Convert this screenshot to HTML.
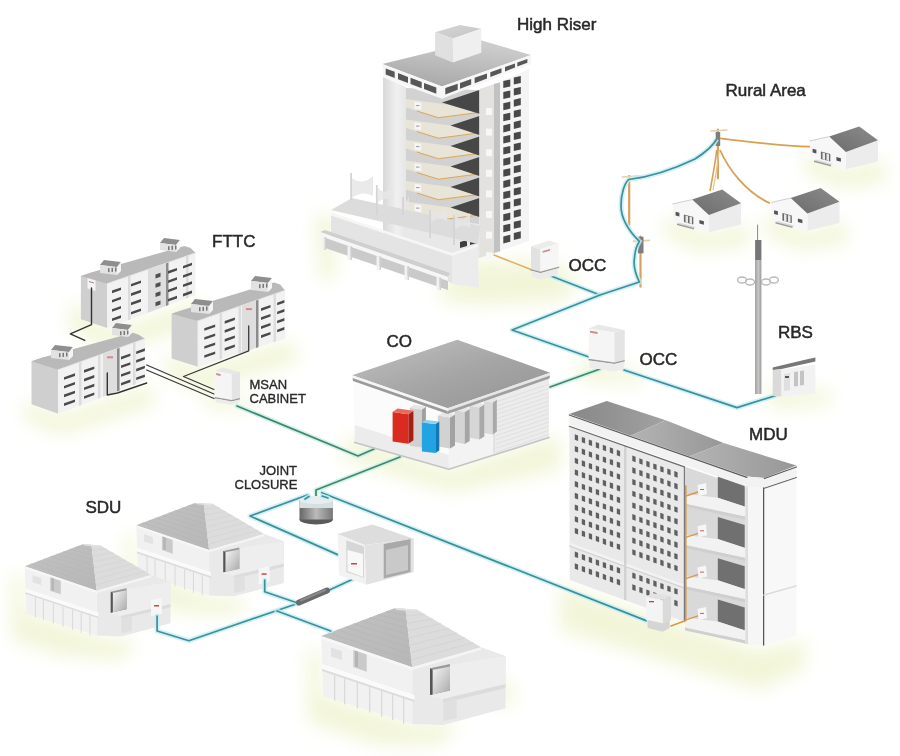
<!DOCTYPE html>
<html><head><meta charset="utf-8"><style>
html,body{margin:0;padding:0;background:#fff;}
svg{display:block;font-family:"Liberation Sans",sans-serif;}
#wrap{width:900px;height:756px;overflow:hidden;}
</style></head><body><div id="wrap">
<svg width="900" height="756" viewBox="0 0 900 756">
<rect width="900" height="756" fill="#fff"/>
<defs><filter id="blur8" x="-50%" y="-50%" width="200%" height="200%"><feGaussianBlur stdDeviation="9"/></filter><filter id="blur3"><feGaussianBlur stdDeviation="2"/></filter><linearGradient id="roofCO" x1="0" y1="0" x2="1" y2="1"><stop offset="0" stop-color="#a9a9a9"/><stop offset="1" stop-color="#8a8a8a"/></linearGradient></defs>
<g filter="url(#blur8)" opacity="0.62">
<polygon points="560,585 760,650 805,640 805,668 760,690 560,630" fill="#eaf0c0"/>
<polygon points="12,575 25,575 25,612 110,640 140,640 120,660 60,655 12,640" fill="#eaf0c0"/>
<polygon points="125,535 136,535 136,570 215,598 250,598 235,615 180,612 125,592" fill="#eaf0c0"/>
<polygon points="308,650 322,650 322,695 415,724 460,722 440,745 380,745 308,722" fill="#eaf0c0"/>
<polygon points="495,680 510,680 515,700 500,712" fill="#eaf0c0"/>
<polygon points="345,435 450,470 560,435 560,470 450,492 345,460" fill="#eaf0c0"/>
<polygon points="70,300 110,330 200,300 205,325 110,350 70,330" fill="#eaf0c0"/>
<polygon points="25,400 60,415 150,385 155,405 60,435 25,420" fill="#eaf0c0"/>
<polygon points="165,355 200,368 290,340 300,360 200,390 165,375" fill="#eaf0c0"/>
<polygon points="315,215 335,215 335,280 320,280" fill="#eaf0c0"/>
<polygon points="440,285 480,260 560,262 570,300 480,305 440,300" fill="#eaf0c0"/>
<polygon points="665,215 710,235 745,222 750,245 700,252 665,235" fill="#eaf0c0"/>
<polygon points="765,213 808,233 843,220 848,243 800,250 765,233" fill="#eaf0c0"/>
<polygon points="805,150 846,170 882,158 886,182 840,188 805,172" fill="#eaf0c0"/>
<polygon points="765,385 815,393 830,385 830,405 770,408" fill="#eaf0c0"/>
<polygon points="520,265 560,278 575,270 575,290 520,290" fill="#eaf0c0"/>
<polygon points="580,355 625,372 640,365 640,385 580,380" fill="#eaf0c0"/>
<polygon points="205,390 240,400 250,395 250,410 205,408" fill="#eaf0c0"/>
</g>
<polyline points="551.0,276.0 600.0,295.0" fill="none" stroke="#c4eef2" stroke-width="5" stroke-linejoin="round" stroke-linecap="round" opacity="0.8"/>
<polyline points="551.0,276.0 600.0,295.0" fill="none" stroke="#3d8f9a" stroke-width="1.7" stroke-linejoin="round" stroke-linecap="round" />
<polyline points="600.0,295.0 512.0,330.0 589.0,357.0" fill="none" stroke="#c4eef2" stroke-width="5" stroke-linejoin="round" stroke-linecap="round" opacity="0.8"/>
<polyline points="600.0,295.0 512.0,330.0 589.0,357.0" fill="none" stroke="#3d8f9a" stroke-width="1.7" stroke-linejoin="round" stroke-linecap="round" />
<polyline points="624.0,370.0 737.0,407.6 775.2,395.7" fill="none" stroke="#c4eef2" stroke-width="5" stroke-linejoin="round" stroke-linecap="round" opacity="0.8"/>
<polyline points="624.0,370.0 737.0,407.6 775.2,395.7" fill="none" stroke="#3d8f9a" stroke-width="1.7" stroke-linejoin="round" stroke-linecap="round" />
<polyline points="550.0,387.0 600.0,369.0" fill="none" stroke="#c8f0e0" stroke-width="5" stroke-linejoin="round" stroke-linecap="round" opacity="0.8"/>
<polyline points="550.0,387.0 600.0,369.0" fill="none" stroke="#408572" stroke-width="1.7" stroke-linejoin="round" stroke-linecap="round" />
<polyline points="237.0,406.0 358.0,456.0 374.0,449.0" fill="none" stroke="#c8f0e0" stroke-width="5" stroke-linejoin="round" stroke-linecap="round" opacity="0.8"/>
<polyline points="237.0,406.0 358.0,456.0 374.0,449.0" fill="none" stroke="#408572" stroke-width="1.7" stroke-linejoin="round" stroke-linecap="round" />
<polyline points="400.0,457.0 316.0,490.0 316.0,498.0" fill="none" stroke="#c8f0e0" stroke-width="5" stroke-linejoin="round" stroke-linecap="round" opacity="0.8"/>
<polyline points="400.0,457.0 316.0,490.0 316.0,498.0" fill="none" stroke="#408572" stroke-width="1.7" stroke-linejoin="round" stroke-linecap="round" />
<polyline points="307.5,495.0 250.0,516.0 337.6,554.6" fill="none" stroke="#c4eef2" stroke-width="5" stroke-linejoin="round" stroke-linecap="round" opacity="0.8"/>
<polyline points="307.5,495.0 250.0,516.0 337.6,554.6" fill="none" stroke="#3d8f9a" stroke-width="1.7" stroke-linejoin="round" stroke-linecap="round" />
<polyline points="321.7,492.7 646.0,620.6" fill="none" stroke="#c4eef2" stroke-width="5" stroke-linejoin="round" stroke-linecap="round" opacity="0.8"/>
<polyline points="321.7,492.7 646.0,620.6" fill="none" stroke="#3d8f9a" stroke-width="1.7" stroke-linejoin="round" stroke-linecap="round" />
<linearGradient id="gTW" x1="0" y1="0" x2="1" y2="0"><stop offset="0" stop-color="#d8d8d8"/><stop offset="0.6" stop-color="#f0f0f0"/><stop offset="1" stop-color="#e6e6e6"/></linearGradient>
<polygon points="383.0,77.0 406.0,87.0 406.0,255.0 383.0,248.0" fill="url(#gTW)" />
<polygon points="406.0,88.0 479.4,90.0 479.4,258.0 406.0,252.0" fill="#d2d2d2" />
<polygon points="406.0,215.0 479.4,224.0 479.4,258.0 406.0,252.0" fill="#e8e8e8" />
<polygon points="460.0,232.0 467.0,230.0 467.0,236.0 460.0,238.0" fill="#3e3e3e" />
<polygon points="470.0,229.0 477.0,227.0 477.0,233.0 470.0,235.0" fill="#3e3e3e" />
<polygon points="460.0,242.0 467.0,240.0 467.0,246.0 460.0,248.0" fill="#3e3e3e" />
<polygon points="470.0,239.0 477.0,237.0 477.0,243.0 470.0,245.0" fill="#3e3e3e" />
<polygon points="406.0,99.1 450.5,105.1 479.4,113.6 438.4,117.7 417.2,111.1 406.0,107.6" fill="#e9e4d8" />
<polygon points="417.2,111.1 438.4,117.7 479.4,112.4 479.4,114.3 438.4,119.3 417.2,112.7" fill="#d9d0c0" />
<polyline points="417.2,111.1 438.4,117.7 479.4,112.4" fill="none" stroke="#d8a865" stroke-width="1.0" stroke-linejoin="round" stroke-linecap="round" />
<polygon points="442.0,102.5 479.4,90.1 479.4,113.7" fill="#474747" />
<polygon points="414.5,101.8 421.2,102.8 421.2,109.8 414.5,108.8" fill="#f6f6f6" />
<rect x="416.0" y="105.1" width="3.5" height="1.0" fill="#999" />
<polygon points="406.0,119.6 450.5,125.6 479.4,134.1 438.4,138.2 417.2,131.6 406.0,128.1" fill="#e9e4d8" />
<polygon points="417.2,131.6 438.4,138.2 479.4,132.9 479.4,134.8 438.4,139.8 417.2,133.2" fill="#d9d0c0" />
<polyline points="417.2,131.6 438.4,138.2 479.4,132.9" fill="none" stroke="#d8a865" stroke-width="1.0" stroke-linejoin="round" stroke-linecap="round" />
<polygon points="450.5,125.6 479.4,116.1 479.4,135.1" fill="#474747" />
<polygon points="414.5,122.3 421.2,123.3 421.2,130.3 414.5,129.3" fill="#f6f6f6" />
<rect x="416.0" y="125.6" width="3.5" height="1.0" fill="#999" />
<polygon points="406.0,140.1 450.5,146.1 479.4,154.6 438.4,158.7 417.2,152.1 406.0,148.6" fill="#e9e4d8" />
<polygon points="417.2,152.1 438.4,158.7 479.4,153.4 479.4,155.3 438.4,160.3 417.2,153.7" fill="#d9d0c0" />
<polyline points="417.2,152.1 438.4,158.7 479.4,153.4" fill="none" stroke="#d8a865" stroke-width="1.0" stroke-linejoin="round" stroke-linecap="round" />
<polygon points="450.5,146.1 479.4,136.6 479.4,155.6" fill="#474747" />
<polygon points="414.5,142.8 421.2,143.8 421.2,150.8 414.5,149.8" fill="#f6f6f6" />
<rect x="416.0" y="146.1" width="3.5" height="1.0" fill="#999" />
<polygon points="406.0,160.6 450.5,166.6 479.4,175.1 438.4,179.2 417.2,172.6 406.0,169.1" fill="#e9e4d8" />
<polygon points="417.2,172.6 438.4,179.2 479.4,173.9 479.4,175.8 438.4,180.8 417.2,174.2" fill="#d9d0c0" />
<polyline points="417.2,172.6 438.4,179.2 479.4,173.9" fill="none" stroke="#d8a865" stroke-width="1.0" stroke-linejoin="round" stroke-linecap="round" />
<polygon points="450.5,166.6 479.4,157.1 479.4,176.1" fill="#474747" />
<polygon points="414.5,163.3 421.2,164.3 421.2,171.3 414.5,170.3" fill="#f6f6f6" />
<rect x="416.0" y="166.6" width="3.5" height="1.0" fill="#999" />
<polygon points="406.0,181.1 450.5,187.1 479.4,195.6 438.4,199.7 417.2,193.1 406.0,189.6" fill="#e9e4d8" />
<polygon points="417.2,193.1 438.4,199.7 479.4,194.4 479.4,196.3 438.4,201.3 417.2,194.7" fill="#d9d0c0" />
<polyline points="417.2,193.1 438.4,199.7 479.4,194.4" fill="none" stroke="#d8a865" stroke-width="1.0" stroke-linejoin="round" stroke-linecap="round" />
<polygon points="450.5,187.1 479.4,177.6 479.4,196.6" fill="#474747" />
<polygon points="414.5,183.8 421.2,184.8 421.2,191.8 414.5,190.8" fill="#f6f6f6" />
<rect x="416.0" y="187.1" width="3.5" height="1.0" fill="#999" />
<polygon points="406.0,201.6 450.5,207.6 479.4,216.1 438.4,220.2 417.2,213.6 406.0,210.1" fill="#e9e4d8" />
<polygon points="417.2,213.6 438.4,220.2 479.4,214.9 479.4,216.8 438.4,221.8 417.2,215.2" fill="#d9d0c0" />
<polyline points="417.2,213.6 438.4,220.2 479.4,214.9" fill="none" stroke="#d8a865" stroke-width="1.0" stroke-linejoin="round" stroke-linecap="round" />
<polygon points="450.5,207.6 479.4,198.1 479.4,217.1" fill="#474747" />
<polygon points="414.5,204.3 421.2,205.3 421.2,212.3 414.5,211.3" fill="#f6f6f6" />
<rect x="416.0" y="207.6" width="3.5" height="1.0" fill="#999" />
<polygon points="479.4,89.0 495.0,84.0 495.0,253.0 479.4,258.0" fill="#e4e2de" />
<polygon points="494.0,84.0 501.0,82.0 501.0,251.0 494.0,253.0" fill="#c2c2c2" />
<rect x="486.0" y="108.0" width="6.0" height="7.0" fill="#f7f7f7" />
<rect x="486.0" y="128.6" width="6.0" height="7.0" fill="#f7f7f7" />
<rect x="486.0" y="149.2" width="6.0" height="7.0" fill="#f7f7f7" />
<rect x="486.0" y="169.8" width="6.0" height="7.0" fill="#f7f7f7" />
<rect x="486.0" y="190.4" width="6.0" height="7.0" fill="#f7f7f7" />
<rect x="486.0" y="211.0" width="6.0" height="7.0" fill="#f7f7f7" />
<rect x="486.0" y="231.6" width="6.0" height="7.0" fill="#f7f7f7" />
<rect x="486.0" y="252.2" width="6.0" height="7.0" fill="#f7f7f7" />
<polygon points="500.0,82.0 529.0,69.0 529.0,241.0 500.0,251.0" fill="#f4f4f4" />
<polygon points="503.3,81.0 510.3,79.4 510.3,86.4 503.3,88.0" fill="#484848" />
<polygon points="513.8,77.5 520.8,75.9 520.8,82.9 513.8,84.5" fill="#484848" />
<polygon points="503.3,92.1 510.3,90.5 510.3,97.5 503.3,99.1" fill="#484848" />
<polygon points="513.8,88.6 520.8,87.0 520.8,94.0 513.8,95.6" fill="#484848" />
<polygon points="503.3,103.2 510.3,101.6 510.3,108.6 503.3,110.2" fill="#484848" />
<polygon points="513.8,99.7 520.8,98.1 520.8,105.1 513.8,106.7" fill="#484848" />
<polygon points="503.3,114.3 510.3,112.7 510.3,119.7 503.3,121.3" fill="#484848" />
<polygon points="513.8,110.8 520.8,109.2 520.8,116.2 513.8,117.8" fill="#484848" />
<polygon points="503.3,125.4 510.3,123.8 510.3,130.8 503.3,132.4" fill="#484848" />
<polygon points="513.8,121.9 520.8,120.3 520.8,127.3 513.8,128.9" fill="#484848" />
<polygon points="503.3,136.5 510.3,134.9 510.3,141.9 503.3,143.5" fill="#484848" />
<polygon points="513.8,133.0 520.8,131.4 520.8,138.4 513.8,140.0" fill="#484848" />
<polygon points="503.3,147.6 510.3,146.0 510.3,153.0 503.3,154.6" fill="#484848" />
<polygon points="513.8,144.1 520.8,142.5 520.8,149.5 513.8,151.1" fill="#484848" />
<polygon points="503.3,158.7 510.3,157.1 510.3,164.1 503.3,165.7" fill="#484848" />
<polygon points="513.8,155.2 520.8,153.6 520.8,160.6 513.8,162.2" fill="#484848" />
<polygon points="503.3,169.8 510.3,168.2 510.3,175.2 503.3,176.8" fill="#484848" />
<polygon points="513.8,166.3 520.8,164.7 520.8,171.7 513.8,173.3" fill="#484848" />
<polygon points="503.3,180.9 510.3,179.3 510.3,186.3 503.3,187.9" fill="#484848" />
<polygon points="513.8,177.4 520.8,175.8 520.8,182.8 513.8,184.4" fill="#484848" />
<polygon points="503.3,192.0 510.3,190.4 510.3,197.4 503.3,199.0" fill="#484848" />
<polygon points="513.8,188.5 520.8,186.9 520.8,193.9 513.8,195.5" fill="#484848" />
<polygon points="503.3,203.1 510.3,201.5 510.3,208.5 503.3,210.1" fill="#484848" />
<polygon points="513.8,199.6 520.8,198.0 520.8,205.0 513.8,206.6" fill="#484848" />
<polygon points="503.3,214.2 510.3,212.6 510.3,219.6 503.3,221.2" fill="#484848" />
<polygon points="513.8,210.7 520.8,209.1 520.8,216.1 513.8,217.7" fill="#484848" />
<polygon points="503.3,225.3 510.3,223.7 510.3,230.7 503.3,232.3" fill="#484848" />
<polygon points="513.8,221.8 520.8,220.2 520.8,227.2 513.8,228.8" fill="#484848" />
<polygon points="503.3,236.4 510.3,234.8 510.3,241.8 503.3,243.4" fill="#484848" />
<polygon points="513.8,232.9 520.8,231.3 520.8,238.3 513.8,239.9" fill="#484848" />
<linearGradient id="gHRR" x1="0.3" y1="1" x2="0.7" y2="0"><stop offset="0" stop-color="#a8a8a8"/><stop offset="1" stop-color="#d0d0d0"/></linearGradient>
<polygon points="382.4,64.0 480.0,40.0 531.0,55.0 442.0,86.5" fill="url(#gHRR)" />
<polygon points="382.4,64.0 442.0,86.5 442.0,98.8 383.5,77.5" fill="#f6f6f6" />
<polygon points="442.0,86.5 531.0,55.0 531.0,64.0 442.0,98.8" fill="#f6f6f6" />
<polygon points="385.7,68.4 394.7,71.8 394.7,78.0 385.7,74.6" fill="#575757" />
<polygon points="398.0,73.1 408.0,76.9 408.0,83.1 398.0,79.3" fill="#575757" />
<polygon points="410.5,77.8 421.7,82.0 421.7,88.2 410.5,84.0" fill="#575757" />
<polygon points="424.0,82.9 436.3,87.5 436.3,93.7 424.0,89.1" fill="#575757" />
<polygon points="445.3,88.1 457.7,83.7 457.7,89.7 445.3,94.5" fill="#575757" />
<polygon points="460.0,82.9 471.2,79.0 471.2,84.5 460.0,88.8" fill="#575757" />
<polygon points="474.6,77.8 487.0,73.4 487.0,78.4 474.6,83.2" fill="#575757" />
<polygon points="490.3,72.2 501.5,68.2 501.5,72.7 490.3,77.1" fill="#575757" />
<polygon points="505.0,67.0 515.0,63.5 515.0,67.5 505.0,71.4" fill="#575757" />
<polygon points="517.3,62.6 527.4,59.1 527.4,62.7 517.3,66.6" fill="#575757" />
<linearGradient id="gBX" x1="0" y1="0" x2="1" y2="1"><stop offset="0" stop-color="#d6d6d6"/><stop offset="1" stop-color="#c4c4c4"/></linearGradient>
<polygon points="435.1,32.2 460.0,25.1 481.3,28.7 452.9,38.4" fill="url(#gBX)" />
<polygon points="435.1,32.2 452.9,38.4 452.9,62.4 435.1,55.3" fill="#e0e0e0" />
<polygon points="452.9,38.4 481.3,28.7 481.3,52.7 452.9,62.4" fill="#efefef" />
<polygon points="331.0,210.0 352.0,198.0 480.0,226.0 478.0,244.0" fill="#dcdcdc" />
<polygon points="331.0,212.5 452.0,253.0 478.0,244.0 478.0,247.0 452.0,256.0 331.0,215.5" fill="#f6f6f6" />
<polygon points="331.0,215.5 452.0,256.0 452.0,283.0 331.0,244.0" fill="#e4e4e4" />
<polygon points="452.0,256.0 478.0,247.0 479.0,288.0 452.0,284.0" fill="#ececec" />
<polygon points="325.0,236.0 448.0,279.0 448.0,290.0 325.0,248.0" fill="#cacaca" />
<polygon points="320.0,232.0 325.0,230.0 450.0,273.0 448.0,277.0" fill="#cfcfcf" />
<polygon points="320.0,232.0 448.0,277.0 448.0,281.0 320.0,236.0" fill="#f6f6f6" />
<polygon points="321.5,237.1 324.5,237.1 324.5,250.0 321.5,250.0" fill="#f2f2f2" />
<polygon points="324.5,237.1 326.0,237.1 326.0,250.0 324.5,250.0" fill="#d0d0d0" />
<polygon points="347.5,246.2 350.5,246.2 350.5,260.0 347.5,260.0" fill="#f2f2f2" />
<polygon points="350.5,246.2 352.0,246.2 352.0,260.0 350.5,260.0" fill="#d0d0d0" />
<polygon points="376.5,256.3 379.5,256.3 379.5,270.0 376.5,270.0" fill="#f2f2f2" />
<polygon points="379.5,256.3 381.0,256.3 381.0,270.0 379.5,270.0" fill="#d0d0d0" />
<polygon points="404.5,266.1 407.5,266.1 407.5,280.0 404.5,280.0" fill="#f2f2f2" />
<polygon points="407.5,266.1 409.0,266.1 409.0,280.0 407.5,280.0" fill="#d0d0d0" />
<polygon points="436.5,277.3 439.5,277.3 439.5,290.0 436.5,290.0" fill="#f2f2f2" />
<polygon points="439.5,277.3 441.0,277.3 441.0,290.0 439.5,290.0" fill="#d0d0d0" />
<polyline points="494.0,255.0 531.0,269.5" fill="none" stroke="#e0b060" stroke-width="1.6" stroke-linejoin="round" stroke-linecap="round" />
<path d="M352,178 Q362.0,186 373,176 L373,196 Q362.0,190 352,198 Z" fill="#e6e6e6" opacity="0.85"/>
<rect x="350.2" y="173.0" width="1.8" height="27.0" fill="#d4d4d4" />
<path d="M377.7,188 Q384.85,196 393,186 L393,201 Q384.85,195 377.7,203 Z" fill="#e6e6e6" opacity="0.85"/>
<rect x="375.9" y="185.0" width="1.8" height="30.0" fill="#d4d4d4" />
<path d="M404,198 Q406.0,206 409,196 L409,211 Q406.0,205 404,213 Z" fill="#e6e6e6" opacity="0.85"/>
<rect x="402.2" y="197.0" width="1.8" height="18.0" fill="#d4d4d4" />
<path d="M431,210 Q438.5,218 447,208 L447,221 Q438.5,215 431,223 Z" fill="#e6e6e6" opacity="0.85"/>
<rect x="429.2" y="210.0" width="1.8" height="28.0" fill="#d4d4d4" />
<path d="M455,215 Q462.0,223 470,213 L470,228 Q462.0,222 455,230 Z" fill="#e6e6e6" opacity="0.85"/>
<rect x="453.2" y="215.0" width="1.8" height="30.0" fill="#d4d4d4" />
<polygon points="531.0,246.4 549.0,240.5 558.6,243.8 540.4,249.3" fill="#ececec" />
<polygon points="531.0,246.4 540.4,249.3 540.4,272.2 531.0,269.7" fill="#e2e2e2" />
<polygon points="540.4,249.3 558.6,243.8 558.6,267.1 540.4,272.2" fill="#f6f6f6" />
<polyline points="531.0,269.9 540.4,272.4 558.6,267.3" fill="none" stroke="#9a9a9a" stroke-width="1.4" stroke-linejoin="round" stroke-linecap="round" />
<polygon points="532.0,271.0 540.4,273.5 557.6,268.5 557.6,275.0 540.4,279.5 532.0,277.0" fill="#ebebeb" />
<polygon points="542.6,251.0 550.0,249.0 550.0,250.8 542.6,252.8" fill="#c89090" />
<polygon points="588.6,328.8 597.9,324.5 624.7,329.9 614.4,332.4" fill="#e8e8e8" />
<polygon points="588.6,328.8 614.4,332.4 614.4,362.4 588.6,358.8" fill="#f5f5f5" />
<polygon points="614.4,332.4 624.7,329.9 624.7,359.9 614.4,362.4" fill="#e4e4e4" />
<polygon points="588.6,358.8 614.4,362.4 624.7,359.9 624.7,361.5 614.4,364.0 588.6,360.4" fill="#9a9a9a" />
<polygon points="589.6,360.4 614.4,364.0 624.7,361.5 623.7,368.9 614.4,371.4 589.6,367.8" fill="#ececec" />
<polygon points="590.1,330.8 597.6,332.1 597.6,334.1 590.1,332.8" fill="#c89090" />
<polygon points="353.4,381.3 447.6,412.0 448.8,469.3 354.7,442.4" fill="#fbfbfb" />
<polygon points="354.7,425.0 448.8,455.0 494.0,440.0 494.0,452.0 448.8,469.3 354.7,442.4" fill="#ececec" />
<polygon points="447.6,412.0 549.0,377.7 549.0,437.6 448.8,469.3" fill="#f3f3f3" />
<polygon points="494.0,396.0 549.0,377.7 549.0,437.6 494.0,453.0" fill="#ececec" />
<polyline points="496.0,402.0 548.0,384.5" fill="none" stroke="#dadada" stroke-width="0.7" stroke-linejoin="round" stroke-linecap="round" />
<polyline points="496.0,406.2 548.0,388.7" fill="none" stroke="#dadada" stroke-width="0.7" stroke-linejoin="round" stroke-linecap="round" />
<polyline points="496.0,410.4 548.0,392.9" fill="none" stroke="#dadada" stroke-width="0.7" stroke-linejoin="round" stroke-linecap="round" />
<polyline points="496.0,414.6 548.0,397.1" fill="none" stroke="#dadada" stroke-width="0.7" stroke-linejoin="round" stroke-linecap="round" />
<polyline points="496.0,418.8 548.0,401.3" fill="none" stroke="#dadada" stroke-width="0.7" stroke-linejoin="round" stroke-linecap="round" />
<polyline points="496.0,423.0 548.0,405.5" fill="none" stroke="#dadada" stroke-width="0.7" stroke-linejoin="round" stroke-linecap="round" />
<polyline points="496.0,427.2 548.0,409.7" fill="none" stroke="#dadada" stroke-width="0.7" stroke-linejoin="round" stroke-linecap="round" />
<polyline points="496.0,431.4 548.0,413.9" fill="none" stroke="#dadada" stroke-width="0.7" stroke-linejoin="round" stroke-linecap="round" />
<polyline points="496.0,435.6 548.0,418.1" fill="none" stroke="#dadada" stroke-width="0.7" stroke-linejoin="round" stroke-linecap="round" />
<polyline points="496.0,439.8 548.0,422.3" fill="none" stroke="#dadada" stroke-width="0.7" stroke-linejoin="round" stroke-linecap="round" />
<polyline points="496.0,444.0 548.0,426.5" fill="none" stroke="#dadada" stroke-width="0.7" stroke-linejoin="round" stroke-linecap="round" />
<polyline points="496.0,448.2 548.0,430.7" fill="none" stroke="#dadada" stroke-width="0.7" stroke-linejoin="round" stroke-linecap="round" />
<polyline points="496.0,452.4 548.0,434.9" fill="none" stroke="#dadada" stroke-width="0.7" stroke-linejoin="round" stroke-linecap="round" />
<polyline points="494.0,396.0 494.0,453.0" fill="none" stroke="#d5d5d5" stroke-width="1" stroke-linejoin="round" stroke-linecap="round" />
<polygon points="484.2,400.9 492.8,402.5 492.8,434.5 484.2,432.9" fill="#d9d9d9" />
<polygon points="492.8,402.5 496.8,399.5 496.8,431.5 492.8,434.5" fill="#a9a9a9" />
<polygon points="484.2,400.9 488.2,397.9 496.8,399.5 492.8,402.5" fill="#e6e6e6" />
<polygon points="469.6,405.8 479.3,407.5 479.3,439.5 469.6,437.8" fill="#d6d6d6" />
<polygon points="479.3,407.5 484.3,404.5 484.3,436.5 479.3,439.5" fill="#a9a9a9" />
<polygon points="469.6,405.8 474.6,402.8 484.3,404.5 479.3,407.5" fill="#e6e6e6" />
<polygon points="454.9,410.0 464.7,412.0 464.7,444.0 454.9,442.0" fill="#d4d4d4" />
<polygon points="464.7,412.0 469.7,409.0 469.7,441.0 464.7,444.0" fill="#a5a5a5" />
<polygon points="454.9,410.0 459.9,407.0 469.7,409.0 464.7,412.0" fill="#e6e6e6" />
<polygon points="437.8,415.6 450.0,417.5 450.0,448.5 437.8,446.6" fill="#d2d2d2" />
<polygon points="450.0,417.5 455.0,414.5 455.0,445.5 450.0,448.5" fill="#a2a2a2" />
<polygon points="437.8,415.6 442.8,412.6 455.0,414.5 450.0,417.5" fill="#e6e6e6" />
<polygon points="409.7,407.7 421.9,409.5 421.9,447.5 409.7,445.7" fill="#d0d0d0" />
<polygon points="421.9,409.5 425.9,406.5 425.9,444.5 421.9,447.5" fill="#a0a0a0" />
<polygon points="409.7,407.7 413.7,404.7 425.9,406.5 421.9,409.5" fill="#e6e6e6" />
<polygon points="392.6,411.9 408.4,414.3 408.4,443.8 392.6,441.4" fill="#d92b1f" />
<polygon points="408.4,414.3 413.4,410.8 413.4,440.3 408.4,443.8" fill="#a81d14" />
<polygon points="392.6,411.9 397.6,408.4 413.4,410.8 408.4,414.3" fill="#e86a5f" />
<polygon points="421.9,422.4 435.3,424.1 435.3,453.1 421.9,451.4" fill="#22a4e4" />
<polygon points="435.3,424.1 439.3,421.6 439.3,450.6 435.3,453.1" fill="#1678b0" />
<polygon points="421.9,422.4 425.9,419.9 439.3,421.6 435.3,424.1" fill="#8fd0f0" />
<polyline points="354.7,442.4 448.8,469.3 549.0,437.6" fill="none" stroke="#c4c4c4" stroke-width="1.6" stroke-linejoin="round" stroke-linecap="round" />
<linearGradient id="gCO" x1="0" y1="0" x2="1" y2="1"><stop offset="0" stop-color="#c2c2c2"/><stop offset="0.5" stop-color="#a6a6a6"/><stop offset="1" stop-color="#939393"/></linearGradient>
<polygon points="352.2,375.2 457.3,339.8 550.2,372.8 447.6,408.2" fill="url(#gCO)" />
<polygon points="352.2,375.2 447.6,408.2 447.6,411.0 352.5,378.0" fill="#f4f4f4" />
<polygon points="352.5,378.0 447.6,411.0 447.6,414.0 353.0,381.0" fill="#9a9a9a" />
<polygon points="447.6,408.2 550.2,372.8 550.0,375.5 447.6,411.0" fill="#e6e6e6" />
<polygon points="447.6,411.0 550.0,375.5 549.5,378.5 447.6,414.0" fill="#a0a0a0" />
<polygon points="80.9,275.9 92.8,271.9 107.3,283.7 107.3,328.0 80.9,319.2" fill="#cfcfcf" />
<polygon points="107.3,283.7 195.5,253.0 195.5,295.0 107.3,328.0" fill="#f2f2f2" />
<polygon points="80.9,275.9 92.8,271.9 184.5,246.0 190.5,248.0 195.5,253.0 107.3,283.7" fill="#b9b9b9" />
<polyline points="107.3,283.7 195.5,253.0" fill="none" stroke="#e8e8e8" stroke-width="1" stroke-linejoin="round" stroke-linecap="round" />
<polygon points="128.0,276.5 130.5,275.6 130.5,319.3 128.0,320.3" fill="#dcdcdc" />
<polygon points="148.0,269.5 150.5,268.7 150.5,311.8 148.0,312.8" fill="#dcdcdc" />
<polygon points="186.0,256.3 188.5,255.4 188.5,297.6 186.0,298.6" fill="#dcdcdc" />
<polygon points="150.0,268.8 166.0,263.3 166.0,306.0 150.0,312.0" fill="#dedede" />
<polygon points="166.0,263.3 168.5,262.4 168.5,305.1 166.0,306.0" fill="#8c8c8c" />
<polygon points="155.5,274.4 160.5,272.7 160.5,276.7 155.5,278.4" fill="#505050" />
<polygon points="155.5,283.7 160.5,282.0 160.5,286.0 155.5,287.7" fill="#505050" />
<polygon points="155.5,293.0 160.5,291.3 160.5,295.3 155.5,297.0" fill="#505050" />
<polygon points="155.5,302.3 160.5,300.6 160.5,304.6 155.5,306.3" fill="#505050" />
<polygon points="112.0,290.6 121.0,287.4 121.0,290.0 112.0,293.2" fill="#4a4a4a" />
<polygon points="112.0,299.9 121.0,296.7 121.0,299.3 112.0,302.5" fill="#4a4a4a" />
<polygon points="112.0,309.2 121.0,306.0 121.0,308.6 112.0,311.8" fill="#4a4a4a" />
<polygon points="112.0,318.5 121.0,315.3 121.0,317.9 112.0,321.1" fill="#4a4a4a" />
<polygon points="131.0,284.0 141.0,280.5 141.0,283.1 131.0,286.6" fill="#4a4a4a" />
<polygon points="131.0,293.3 141.0,289.8 141.0,292.4 131.0,295.9" fill="#4a4a4a" />
<polygon points="131.0,302.6 141.0,299.1 141.0,301.7 131.0,305.2" fill="#4a4a4a" />
<polygon points="131.0,311.9 141.0,308.4 141.0,311.0 131.0,314.5" fill="#4a4a4a" />
<polygon points="168.0,271.1 177.0,267.9 177.0,270.5 168.0,273.7" fill="#4a4a4a" />
<polygon points="168.0,280.4 177.0,277.2 177.0,279.8 168.0,283.0" fill="#4a4a4a" />
<polygon points="168.0,289.7 177.0,286.5 177.0,289.1 168.0,292.3" fill="#4a4a4a" />
<polygon points="168.0,299.0 177.0,295.8 177.0,298.4 168.0,301.6" fill="#4a4a4a" />
<polygon points="183.0,265.9 192.0,262.7 192.0,265.3 183.0,268.5" fill="#4a4a4a" />
<polygon points="183.0,275.2 192.0,272.0 192.0,274.6 183.0,277.8" fill="#4a4a4a" />
<polygon points="183.0,284.5 192.0,281.3 192.0,283.9 183.0,287.1" fill="#4a4a4a" />
<polygon points="183.0,293.8 192.0,290.6 192.0,293.2 183.0,296.4" fill="#4a4a4a" />
<polygon points="100.0,265.0 104.0,260.0 121.0,262.0 117.0,267.0" fill="#8e8e8e" />
<polygon points="100.0,265.0 117.0,267.0 117.0,275.0 100.0,273.0" fill="#e2e2e2" />
<polygon points="117.0,267.0 121.0,262.0 121.0,271.0 117.0,275.0" fill="#f4f4f4" />
<rect x="108.0" y="268.2" width="1.5" height="4.0" fill="#777" />
<rect x="111.5" y="267.9" width="1.5" height="4.0" fill="#777" />
<rect x="115.0" y="267.5" width="1.5" height="4.0" fill="#777" />
<polygon points="160.0,243.0 164.0,238.0 180.0,240.0 176.0,245.0" fill="#8e8e8e" />
<polygon points="160.0,243.0 176.0,245.0 176.0,252.0 160.0,250.0" fill="#e2e2e2" />
<polygon points="176.0,245.0 180.0,240.0 180.0,248.0 176.0,252.0" fill="#f4f4f4" />
<rect x="168.0" y="246.2" width="1.5" height="4.0" fill="#777" />
<rect x="171.5" y="245.8" width="1.5" height="4.0" fill="#777" />
<rect x="175.0" y="245.5" width="1.5" height="4.0" fill="#777" />
<polygon points="31.5,361.2 43.5,357.2 58.2,369.8 58.2,413.8 31.5,404.2" fill="#cfcfcf" />
<polygon points="58.2,369.8 144.9,338.8 144.9,380.8 58.2,413.8" fill="#f2f2f2" />
<polygon points="31.5,361.2 43.5,357.2 132.9,332.8 138.9,334.8 144.9,338.8 58.2,369.8" fill="#b9b9b9" />
<polyline points="58.2,369.8 144.9,338.8" fill="none" stroke="#e8e8e8" stroke-width="1" stroke-linejoin="round" stroke-linecap="round" />
<polygon points="79.0,362.4 81.5,361.5 81.5,404.9 79.0,405.9" fill="#dcdcdc" />
<polygon points="98.0,355.6 100.5,354.7 100.5,397.7 98.0,398.7" fill="#dcdcdc" />
<polygon points="117.4,348.6 119.9,347.7 119.9,390.3 117.4,391.3" fill="#dcdcdc" />
<polygon points="133.0,343.1 135.5,342.2 135.5,384.4 133.0,385.3" fill="#dcdcdc" />
<polygon points="103.0,353.8 117.0,348.8 117.0,391.4 103.0,396.7" fill="#dedede" />
<polygon points="117.0,348.8 119.5,347.9 119.5,390.5 117.0,391.4" fill="#8c8c8c" />
<rect x="107.0" y="356.3" width="6.0" height="2.0" fill="#d88" />
<polygon points="64.0,377.2 75.0,373.3 75.0,375.9 64.0,379.8" fill="#4a4a4a" />
<polygon points="64.0,385.9 75.0,382.0 75.0,384.6 64.0,388.5" fill="#4a4a4a" />
<polygon points="64.0,394.6 75.0,390.7 75.0,393.3 64.0,397.2" fill="#4a4a4a" />
<polygon points="64.0,403.3 75.0,399.4 75.0,402.0 64.0,405.9" fill="#4a4a4a" />
<polygon points="84.0,370.1 94.3,366.4 94.3,369.0 84.0,372.7" fill="#4a4a4a" />
<polygon points="84.0,378.8 94.3,375.1 94.3,377.7 84.0,381.4" fill="#4a4a4a" />
<polygon points="84.0,387.5 94.3,383.8 94.3,386.4 84.0,390.1" fill="#4a4a4a" />
<polygon points="84.0,396.2 94.3,392.5 94.3,395.1 84.0,398.8" fill="#4a4a4a" />
<polygon points="121.0,356.8 130.4,353.5 130.4,356.1 121.0,359.4" fill="#4a4a4a" />
<polygon points="121.0,365.5 130.4,362.2 130.4,364.8 121.0,368.1" fill="#4a4a4a" />
<polygon points="121.0,374.2 130.4,370.9 130.4,373.5 121.0,376.8" fill="#4a4a4a" />
<polygon points="121.0,382.9 130.4,379.6 130.4,382.2 121.0,385.5" fill="#4a4a4a" />
<polygon points="136.2,351.4 144.9,348.3 144.9,350.9 136.2,354.0" fill="#4a4a4a" />
<polygon points="136.2,360.1 144.9,357.0 144.9,359.6 136.2,362.7" fill="#4a4a4a" />
<polygon points="136.2,368.8 144.9,365.7 144.9,368.3 136.2,371.4" fill="#4a4a4a" />
<polygon points="136.2,377.5 144.9,374.4 144.9,377.0 136.2,380.1" fill="#4a4a4a" />
<polygon points="51.0,350.0 55.0,345.0 73.0,347.0 69.0,352.0" fill="#8e8e8e" />
<polygon points="51.0,350.0 69.0,352.0 69.0,360.0 51.0,358.0" fill="#e2e2e2" />
<polygon points="69.0,352.0 73.0,347.0 73.0,356.0 69.0,360.0" fill="#f4f4f4" />
<rect x="59.0" y="353.2" width="1.5" height="4.0" fill="#777" />
<rect x="62.5" y="352.9" width="1.5" height="4.0" fill="#777" />
<rect x="66.0" y="352.5" width="1.5" height="4.0" fill="#777" />
<polygon points="112.0,328.0 116.0,323.0 132.0,325.0 128.0,330.0" fill="#8e8e8e" />
<polygon points="112.0,328.0 128.0,330.0 128.0,337.0 112.0,335.0" fill="#e2e2e2" />
<polygon points="128.0,330.0 132.0,325.0 132.0,333.0 128.0,337.0" fill="#f4f4f4" />
<rect x="120.0" y="331.2" width="1.5" height="4.0" fill="#777" />
<rect x="123.5" y="330.9" width="1.5" height="4.0" fill="#777" />
<rect x="127.0" y="330.5" width="1.5" height="4.0" fill="#777" />
<polygon points="171.6,313.7 183.4,309.7 197.8,321.0 197.8,366.8 171.6,358.5" fill="#cfcfcf" />
<polygon points="197.8,321.0 285.1,290.4 285.1,338.4 197.8,366.8" fill="#f2f2f2" />
<polygon points="171.6,313.7 183.4,309.7 274.1,282.4 280.1,284.4 285.1,290.4 197.8,321.0" fill="#b9b9b9" />
<polyline points="197.8,321.0 285.1,290.4" fill="none" stroke="#e8e8e8" stroke-width="1" stroke-linejoin="round" stroke-linecap="round" />
<polygon points="219.6,313.4 222.1,312.5 222.1,358.9 219.6,359.7" fill="#dcdcdc" />
<polygon points="238.5,306.7 241.0,305.9 241.0,352.7 238.5,353.6" fill="#dcdcdc" />
<polygon points="273.5,294.5 276.0,293.6 276.0,341.4 273.5,342.2" fill="#dcdcdc" />
<polygon points="242.0,305.5 256.0,300.6 256.0,347.9 242.0,352.4" fill="#dedede" />
<polygon points="256.0,300.6 258.5,299.7 258.5,347.1 256.0,347.9" fill="#8c8c8c" />
<rect x="246.0" y="308.1" width="6.0" height="2.0" fill="#d88" />
<polygon points="204.3,328.2 215.2,324.4 215.2,327.0 204.3,330.8" fill="#4a4a4a" />
<polygon points="204.3,337.2 215.2,333.4 215.2,336.0 204.3,339.8" fill="#4a4a4a" />
<polygon points="204.3,346.2 215.2,342.4 215.2,345.0 204.3,348.8" fill="#4a4a4a" />
<polygon points="204.3,355.2 215.2,351.4 215.2,354.0 204.3,357.8" fill="#4a4a4a" />
<polygon points="224.7,321.1 234.9,317.5 234.9,320.1 224.7,323.7" fill="#4a4a4a" />
<polygon points="224.7,330.1 234.9,326.5 234.9,329.1 224.7,332.7" fill="#4a4a4a" />
<polygon points="224.7,339.1 234.9,335.5 234.9,338.1 224.7,341.7" fill="#4a4a4a" />
<polygon points="224.7,348.1 234.9,344.5 234.9,347.1 224.7,350.7" fill="#4a4a4a" />
<polygon points="261.0,308.3 270.5,305.0 270.5,307.6 261.0,310.9" fill="#4a4a4a" />
<polygon points="261.0,317.3 270.5,314.0 270.5,316.6 261.0,319.9" fill="#4a4a4a" />
<polygon points="261.0,326.3 270.5,323.0 270.5,325.6 261.0,328.9" fill="#4a4a4a" />
<polygon points="261.0,335.3 270.5,332.0 270.5,334.6 261.0,337.9" fill="#4a4a4a" />
<polygon points="277.1,302.7 284.4,300.1 284.4,302.7 277.1,305.3" fill="#4a4a4a" />
<polygon points="277.1,311.7 284.4,309.1 284.4,311.7 277.1,314.3" fill="#4a4a4a" />
<polygon points="277.1,320.7 284.4,318.1 284.4,320.7 277.1,323.3" fill="#4a4a4a" />
<polygon points="277.1,329.7 284.4,327.1 284.4,329.7 277.1,332.3" fill="#4a4a4a" />
<polygon points="191.0,304.0 195.0,299.0 213.0,301.0 209.0,306.0" fill="#8e8e8e" />
<polygon points="191.0,304.0 209.0,306.0 209.0,314.0 191.0,312.0" fill="#e2e2e2" />
<polygon points="209.0,306.0 213.0,301.0 213.0,310.0 209.0,314.0" fill="#f4f4f4" />
<rect x="199.0" y="307.2" width="1.5" height="4.0" fill="#777" />
<rect x="202.5" y="306.9" width="1.5" height="4.0" fill="#777" />
<rect x="206.0" y="306.5" width="1.5" height="4.0" fill="#777" />
<polygon points="251.0,281.0 255.0,276.0 272.0,278.0 268.0,283.0" fill="#8e8e8e" />
<polygon points="251.0,281.0 268.0,283.0 268.0,292.0 251.0,290.0" fill="#e2e2e2" />
<polygon points="268.0,283.0 272.0,278.0 272.0,288.0 268.0,292.0" fill="#f4f4f4" />
<rect x="259.0" y="284.2" width="1.5" height="4.0" fill="#777" />
<rect x="262.5" y="283.9" width="1.5" height="4.0" fill="#777" />
<rect x="266.0" y="283.5" width="1.5" height="4.0" fill="#777" />
<polygon points="87.5,278.0 95.5,280.5 95.5,291.0 87.5,288.5" fill="#f4f4f4" />
<polygon points="89.0,281.0 94.0,282.5 94.0,283.5 89.0,282.0" fill="#b08080" />
<polyline points="91.5,288.0 91.5,324.6 70.3,333.8 84.8,340.4" fill="none" stroke="#333" stroke-width="1.4" stroke-linejoin="round" stroke-linecap="round" />
<polyline points="107.3,373.0 107.3,395.0 117.4,393.0 146.7,383.0" fill="none" stroke="#333" stroke-width="1.4" stroke-linejoin="round" stroke-linecap="round" />
<polyline points="248.7,326.0 248.7,350.8 183.5,376.5 214.0,389.5" fill="none" stroke="#3a3a3a" stroke-width="1.3" stroke-linejoin="round" stroke-linecap="round" />
<polyline points="146.7,365.0 214.0,394.0" fill="none" stroke="#3a3a3a" stroke-width="1.3" stroke-linejoin="round" stroke-linecap="round" />
<polyline points="146.7,370.0 214.0,398.5" fill="none" stroke="#3a3a3a" stroke-width="1.3" stroke-linejoin="round" stroke-linecap="round" />
<polygon points="214.7,371.0 222.2,367.5 240.0,371.9 231.7,373.9" fill="#e8e8e8" />
<polygon points="214.7,371.0 231.7,373.9 231.7,399.9 214.7,397.0" fill="#f5f5f5" />
<polygon points="231.7,373.9 240.0,371.9 240.0,397.9 231.7,399.9" fill="#e4e4e4" />
<polygon points="214.7,397.0 231.7,399.9 240.0,397.9 240.0,399.5 231.7,401.5 214.7,398.6" fill="#9a9a9a" />
<polygon points="215.7,398.6 231.7,401.5 240.0,399.5 239.0,402.9 231.7,404.9 215.7,402.0" fill="#ececec" />
<polygon points="216.2,373.0 220.6,374.0 220.6,376.0 216.2,375.0" fill="#c89090" />
<linearGradient id="gHR" x1="0" y1="1" x2="1" y2="0"><stop offset="0" stop-color="#6c6c6c"/><stop offset="1" stop-color="#8c8c8c"/></linearGradient>
<g id="hA">
<polygon points="708.9,215.0 741.0,203.3 741.0,224.4 708.9,232.2" fill="#ececec" />
<polygon points="672.8,203.9 692.2,199.6 708.9,215.0 708.9,232.2 673.3,223.3" fill="#f7f7f7" />
<polygon points="692.2,199.6 722.2,189.4 741.0,203.3 708.9,215.0" fill="url(#gHR)" />
<polyline points="672.8,203.9 692.2,199.6" fill="none" stroke="#d0d0d0" stroke-width="1" stroke-linejoin="round" stroke-linecap="round" />
<polygon points="675.6,211.7 679.4,212.8 679.4,216.6 675.6,215.5" fill="#555" />
<polygon points="699.4,220.0 703.9,221.2 703.9,224.8 699.4,223.6" fill="#555" />
<polygon points="683.9,214.4 693.3,216.9 693.3,224.5 683.9,222.0" fill="#6a6a6a" />
<polygon points="685.5,215.5 688.0,216.2 688.0,223.0 685.5,222.3" fill="#e8e8e8" />
<polygon points="689.5,216.6 692.0,217.3 692.0,224.0 689.5,223.3" fill="#e8e8e8" />
<polygon points="677.0,223.5 694.0,228.0 696.0,227.0 679.0,222.5" fill="#dcdcdc" />
<polygon points="677.0,223.5 694.0,228.0 694.0,229.5 677.0,225.0" fill="#9a9a9a" />
</g>
<use href="#hA" transform="translate(98.5,-1.5)"/>
<use href="#hA" transform="translate(137,-63)"/>
<polyline points="717.9,129.5 717.9,178.3" fill="none" stroke="#d9a060" stroke-width="2.2" stroke-linejoin="round" stroke-linecap="round" />
<polyline points="710.9,131.0 726.9,130.0" fill="none" stroke="#e6cfa8" stroke-width="1.6" stroke-linejoin="round" stroke-linecap="round" />
<polyline points="629.2,176.0 629.2,224.8" fill="none" stroke="#d9a060" stroke-width="2.2" stroke-linejoin="round" stroke-linecap="round" />
<polyline points="622.2,177.0 638.2,176.0" fill="none" stroke="#e6cfa8" stroke-width="1.6" stroke-linejoin="round" stroke-linecap="round" />
<polyline points="640.5,236.7 640.5,286.7" fill="none" stroke="#d9a060" stroke-width="2.2" stroke-linejoin="round" stroke-linecap="round" />
<polyline points="633.5,241.4 649.5,240.4" fill="none" stroke="#e6cfa8" stroke-width="1.6" stroke-linejoin="round" stroke-linecap="round" />
<rect x="715.7" y="132.0" width="4.5" height="14.0" fill="#7d7d7d" />
<rect x="638.0" y="236.7" width="5.5" height="16.6" fill="#7d7d7d" />
<path d="M600,295 L639.3,282 C636,275 633,266 634.5,258 C635,250 637,245 639.3,241.4 C630,232 621,220 621,205.7 C621,195 624,184 628.6,179.5 C650,177 672,170 695,159 C706,152 713,146 716.7,139" fill="none" stroke="#c4eef2" stroke-width="5" opacity="0.8"/><path d="M600,295 L639.3,282 C636,275 633,266 634.5,258 C635,250 637,245 639.3,241.4 C630,232 621,220 621,205.7 C621,195 624,184 628.6,179.5 C650,177 672,170 695,159 C706,152 713,146 716.7,139" fill="none" stroke="#3d8f9a" stroke-width="1.7"/>
<path d="M720,138.3 C750,142 786,146 810,146.7" fill="none" stroke="#d9a050" stroke-width="1.8"/>
<path d="M716.7,150 C715,165 712,180 710,191" fill="none" stroke="#d9a050" stroke-width="1.6"/>
<path d="M719,150 C718,165 715,180 713,190" fill="none" stroke="#e8c088" stroke-width="1.2"/>
<path d="M720,150 C728,168 745,192 770,203.3" fill="none" stroke="#d9a050" stroke-width="1.8"/>
<polyline points="757.6,225.0 757.6,242.0" fill="none" stroke="#888" stroke-width="1" stroke-linejoin="round" stroke-linecap="round" />
<polygon points="755.1,240.0 761.4,240.0 761.4,260.2 755.1,260.2" fill="#767676" />
<linearGradient id="gPole" x1="0" y1="0" x2="1" y2="0"><stop offset="0" stop-color="#9a9a9a"/><stop offset="0.5" stop-color="#c8c8c8"/><stop offset="1" stop-color="#9a9a9a"/></linearGradient>
<rect x="755.1" y="260.0" width="6.3" height="134.0" fill="url(#gPole)" />
<ellipse cx="742" cy="280" rx="4.5" ry="3" fill="none" stroke="#b8b8b8" stroke-width="1.3"/>
<ellipse cx="750" cy="282" rx="4.5" ry="3" fill="none" stroke="#b8b8b8" stroke-width="1.3"/>
<ellipse cx="766" cy="282" rx="4.5" ry="3" fill="none" stroke="#b8b8b8" stroke-width="1.3"/>
<ellipse cx="774" cy="280" rx="4.5" ry="3" fill="none" stroke="#b8b8b8" stroke-width="1.3"/>
<polygon points="772.7,367.5 804.0,360.0 815.4,357.5 815.4,361.5 781.5,369.0 772.7,370.0" fill="#777777" />
<polygon points="772.7,370.0 781.5,369.5 781.5,396.5 772.7,396.0" fill="#dadada" />
<polygon points="781.5,369.5 815.4,364.5 815.4,393.4 781.5,396.5" fill="#f2f2f2" />
<polygon points="784.0,374.0 790.0,373.0 790.0,390.0 784.0,391.0" fill="#e0e0e0" />
<rect x="785.0" y="376.0" width="4.0" height="2.0" fill="#555" />
<polygon points="794.0,372.0 798.0,371.5 798.0,386.0 794.0,386.5" fill="#c4c4c4" />
<polygon points="800.0,371.0 804.0,370.5 804.0,385.0 800.0,385.5" fill="#c4c4c4" />
<polygon points="569.3,425.8 746.0,488.2 746.0,644.0 569.7,580.0" fill="#e9e9e9" />
<polygon points="624.0,445.1 626.5,446.0 626.5,600.6 624.0,599.7" fill="#d2d2d2" />
<polyline points="569.3,426.3 684.4,466.9" fill="none" stroke="#6a6a6a" stroke-width="1.2" stroke-linejoin="round" stroke-linecap="round" />
<polygon points="574.8,434.3 578.1,435.5 578.1,440.9 574.8,439.7" fill="#606060" />
<polygon points="574.8,446.0 578.1,447.2 578.1,452.6 574.8,451.4" fill="#606060" />
<polygon points="574.8,457.7 578.1,458.9 578.1,464.3 574.8,463.1" fill="#606060" />
<polygon points="574.8,469.4 578.1,470.6 578.1,476.0 574.8,474.8" fill="#606060" />
<polygon points="574.8,481.1 578.1,482.3 578.1,487.7 574.8,486.5" fill="#606060" />
<polygon points="574.8,492.8 578.1,494.0 578.1,499.4 574.8,498.2" fill="#606060" />
<polygon points="574.8,504.5 578.1,505.7 578.1,511.1 574.8,509.9" fill="#606060" />
<polygon points="574.8,516.2 578.1,517.4 578.1,522.8 574.8,521.6" fill="#606060" />
<polygon points="574.8,527.9 578.1,529.1 578.1,534.5 574.8,533.3" fill="#606060" />
<polygon points="574.8,551.5 578.1,552.7 578.1,558.1 574.8,556.9" fill="#606060" />
<polygon points="574.8,563.3 578.1,564.5 578.1,569.9 574.8,568.7" fill="#606060" />
<polygon points="581.8,436.9 585.1,438.1 585.1,443.5 581.8,442.3" fill="#606060" />
<polygon points="581.8,448.6 585.1,449.8 585.1,455.2 581.8,454.0" fill="#606060" />
<polygon points="581.8,460.3 585.1,461.5 585.1,466.9 581.8,465.7" fill="#606060" />
<polygon points="581.8,472.0 585.1,473.2 585.1,478.6 581.8,477.4" fill="#606060" />
<polygon points="581.8,483.7 585.1,484.9 585.1,490.3 581.8,489.1" fill="#606060" />
<polygon points="581.8,495.4 585.1,496.6 585.1,502.0 581.8,500.8" fill="#606060" />
<polygon points="581.8,507.1 585.1,508.3 585.1,513.7 581.8,512.5" fill="#606060" />
<polygon points="581.8,518.8 585.1,520.0 585.1,525.4 581.8,524.2" fill="#606060" />
<polygon points="581.8,530.5 585.1,531.7 585.1,537.1 581.8,535.9" fill="#606060" />
<polygon points="581.8,554.1 585.1,555.3 585.1,560.7 581.8,559.5" fill="#606060" />
<polygon points="581.8,565.9 585.1,567.1 585.1,572.5 581.8,571.3" fill="#606060" />
<polygon points="588.8,439.5 592.1,440.7 592.1,446.1 588.8,444.9" fill="#606060" />
<polygon points="588.8,451.2 592.1,452.4 592.1,457.8 588.8,456.6" fill="#606060" />
<polygon points="588.8,462.9 592.1,464.1 592.1,469.5 588.8,468.3" fill="#606060" />
<polygon points="588.8,474.6 592.1,475.8 592.1,481.2 588.8,480.0" fill="#606060" />
<polygon points="588.8,486.3 592.1,487.5 592.1,492.9 588.8,491.7" fill="#606060" />
<polygon points="588.8,498.0 592.1,499.2 592.1,504.6 588.8,503.4" fill="#606060" />
<polygon points="588.8,509.7 592.1,510.9 592.1,516.3 588.8,515.1" fill="#606060" />
<polygon points="588.8,521.4 592.1,522.6 592.1,528.0 588.8,526.8" fill="#606060" />
<polygon points="588.8,533.1 592.1,534.3 592.1,539.7 588.8,538.5" fill="#606060" />
<polygon points="588.8,556.7 592.1,557.9 592.1,563.3 588.8,562.1" fill="#606060" />
<polygon points="588.8,568.5 592.1,569.7 592.1,575.1 588.8,573.9" fill="#606060" />
<polygon points="595.8,442.1 599.1,443.3 599.1,448.7 595.8,447.5" fill="#606060" />
<polygon points="595.8,453.8 599.1,455.0 599.1,460.4 595.8,459.2" fill="#606060" />
<polygon points="595.8,465.5 599.1,466.7 599.1,472.1 595.8,470.9" fill="#606060" />
<polygon points="595.8,477.2 599.1,478.4 599.1,483.8 595.8,482.6" fill="#606060" />
<polygon points="595.8,488.9 599.1,490.1 599.1,495.5 595.8,494.3" fill="#606060" />
<polygon points="595.8,500.6 599.1,501.8 599.1,507.2 595.8,506.0" fill="#606060" />
<polygon points="595.8,512.3 599.1,513.5 599.1,518.9 595.8,517.7" fill="#606060" />
<polygon points="595.8,524.0 599.1,525.2 599.1,530.6 595.8,529.4" fill="#606060" />
<polygon points="595.8,535.7 599.1,536.9 599.1,542.3 595.8,541.1" fill="#606060" />
<polygon points="595.8,559.3 599.1,560.5 599.1,565.9 595.8,564.7" fill="#606060" />
<polygon points="595.8,571.1 599.1,572.3 599.1,577.7 595.8,576.5" fill="#606060" />
<polygon points="602.8,444.7 606.1,445.9 606.1,451.3 602.8,450.1" fill="#606060" />
<polygon points="602.8,456.4 606.1,457.6 606.1,463.0 602.8,461.8" fill="#606060" />
<polygon points="602.8,468.1 606.1,469.3 606.1,474.7 602.8,473.5" fill="#606060" />
<polygon points="602.8,479.8 606.1,481.0 606.1,486.4 602.8,485.2" fill="#606060" />
<polygon points="602.8,491.5 606.1,492.7 606.1,498.1 602.8,496.9" fill="#606060" />
<polygon points="602.8,503.2 606.1,504.4 606.1,509.8 602.8,508.6" fill="#606060" />
<polygon points="602.8,514.9 606.1,516.1 606.1,521.5 602.8,520.3" fill="#606060" />
<polygon points="602.8,526.6 606.1,527.8 606.1,533.2 602.8,532.0" fill="#606060" />
<polygon points="602.8,538.3 606.1,539.5 606.1,544.9 602.8,543.7" fill="#606060" />
<polygon points="602.8,561.9 606.1,563.1 606.1,568.5 602.8,567.3" fill="#606060" />
<polygon points="602.8,573.7 606.1,574.9 606.1,580.3 602.8,579.1" fill="#606060" />
<polygon points="609.8,447.2 613.1,448.4 613.1,453.9 609.8,452.6" fill="#606060" />
<polygon points="609.8,458.9 613.1,460.1 613.1,465.6 609.8,464.3" fill="#606060" />
<polygon points="609.8,470.6 613.1,471.8 613.1,477.2 609.8,476.0" fill="#606060" />
<polygon points="609.8,482.3 613.1,483.5 613.1,488.9 609.8,487.7" fill="#606060" />
<polygon points="609.8,494.1 613.1,495.2 613.1,500.7 609.8,499.4" fill="#606060" />
<polygon points="609.8,505.8 613.1,506.9 613.1,512.4 609.8,511.1" fill="#606060" />
<polygon points="609.8,517.5 613.1,518.7 613.1,524.1 609.8,522.9" fill="#606060" />
<polygon points="609.8,529.2 613.1,530.4 613.1,535.8 609.8,534.6" fill="#606060" />
<polygon points="609.8,540.9 613.1,542.1 613.1,547.5 609.8,546.2" fill="#606060" />
<polygon points="609.8,564.5 613.1,565.7 613.1,571.1 609.8,569.9" fill="#606060" />
<polygon points="609.8,576.2 613.1,577.5 613.1,582.9 609.8,581.6" fill="#606060" />
<polygon points="616.8,449.8 620.1,451.0 620.1,456.4 616.8,455.2" fill="#606060" />
<polygon points="616.8,461.5 620.1,462.7 620.1,468.1 616.8,466.9" fill="#606060" />
<polygon points="616.8,473.2 620.1,474.4 620.1,479.8 616.8,478.6" fill="#606060" />
<polygon points="616.8,484.9 620.1,486.1 620.1,491.5 616.8,490.3" fill="#606060" />
<polygon points="616.8,496.6 620.1,497.8 620.1,503.2 616.8,502.0" fill="#606060" />
<polygon points="616.8,508.3 620.1,509.5 620.1,514.9 616.8,513.7" fill="#606060" />
<polygon points="616.8,520.0 620.1,521.2 620.1,526.6 616.8,525.4" fill="#606060" />
<polygon points="616.8,531.7 620.1,532.9 620.1,538.3 616.8,537.1" fill="#606060" />
<polygon points="616.8,543.4 620.1,544.6 620.1,550.0 616.8,548.8" fill="#606060" />
<polygon points="616.8,567.0 620.1,568.2 620.1,573.6 616.8,572.4" fill="#606060" />
<polygon points="616.8,578.8 620.1,580.0 620.1,585.4 616.8,584.2" fill="#606060" />
<polygon points="632.3,455.6 635.6,456.8 635.6,462.2 632.3,461.0" fill="#606060" />
<polygon points="632.3,467.3 635.6,468.5 635.6,473.9 632.3,472.7" fill="#606060" />
<polygon points="632.3,479.0 635.6,480.2 635.6,485.6 632.3,484.4" fill="#606060" />
<polygon points="632.3,490.7 635.6,491.9 635.6,497.3 632.3,496.1" fill="#606060" />
<polygon points="632.3,502.4 635.6,503.6 635.6,509.0 632.3,507.8" fill="#606060" />
<polygon points="632.3,514.1 635.6,515.3 635.6,520.7 632.3,519.5" fill="#606060" />
<polygon points="632.3,525.8 635.6,527.0 635.6,532.4 632.3,531.2" fill="#606060" />
<polygon points="632.3,537.5 635.6,538.7 635.6,544.1 632.3,542.9" fill="#606060" />
<polygon points="632.3,549.2 635.6,550.4 635.6,555.8 632.3,554.6" fill="#606060" />
<polygon points="632.3,572.5 635.6,573.7 635.6,579.1 632.3,577.9" fill="#606060" />
<polygon points="632.3,584.3 635.6,585.5 635.6,590.9 632.3,589.7" fill="#606060" />
<polygon points="639.3,458.2 642.6,459.4 642.6,464.8 639.3,463.6" fill="#606060" />
<polygon points="639.3,469.9 642.6,471.1 642.6,476.5 639.3,475.3" fill="#606060" />
<polygon points="639.3,481.6 642.6,482.8 642.6,488.2 639.3,487.0" fill="#606060" />
<polygon points="639.3,493.3 642.6,494.5 642.6,499.9 639.3,498.7" fill="#606060" />
<polygon points="639.3,505.0 642.6,506.2 642.6,511.6 639.3,510.4" fill="#606060" />
<polygon points="639.3,516.7 642.6,517.9 642.6,523.3 639.3,522.1" fill="#606060" />
<polygon points="639.3,528.4 642.6,529.6 642.6,535.0 639.3,533.8" fill="#606060" />
<polygon points="639.3,540.1 642.6,541.3 642.6,546.7 639.3,545.5" fill="#606060" />
<polygon points="639.3,551.8 642.6,553.0 642.6,558.4 639.3,557.2" fill="#606060" />
<polygon points="639.3,575.1 642.6,576.3 642.6,581.7 639.3,580.5" fill="#606060" />
<polygon points="639.3,586.9 642.6,588.1 642.6,593.5 639.3,592.3" fill="#606060" />
<polygon points="646.3,460.8 649.6,462.0 649.6,467.4 646.3,466.2" fill="#606060" />
<polygon points="646.3,472.5 649.6,473.7 649.6,479.1 646.3,477.9" fill="#606060" />
<polygon points="646.3,484.2 649.6,485.4 649.6,490.8 646.3,489.6" fill="#606060" />
<polygon points="646.3,495.9 649.6,497.1 649.6,502.5 646.3,501.3" fill="#606060" />
<polygon points="646.3,507.6 649.6,508.8 649.6,514.2 646.3,513.0" fill="#606060" />
<polygon points="646.3,519.3 649.6,520.5 649.6,525.9 646.3,524.7" fill="#606060" />
<polygon points="646.3,531.0 649.6,532.2 649.6,537.6 646.3,536.4" fill="#606060" />
<polygon points="646.3,542.7 649.6,543.9 649.6,549.3 646.3,548.1" fill="#606060" />
<polygon points="646.3,554.4 649.6,555.6 649.6,561.0 646.3,559.8" fill="#606060" />
<polygon points="646.3,577.7 649.6,578.9 649.6,584.3 646.3,583.1" fill="#606060" />
<polygon points="646.3,589.5 649.6,590.7 649.6,596.1 646.3,594.9" fill="#606060" />
<polygon points="653.3,463.4 656.6,464.6 656.6,470.0 653.3,468.8" fill="#606060" />
<polygon points="653.3,475.1 656.6,476.3 656.6,481.7 653.3,480.5" fill="#606060" />
<polygon points="653.3,486.8 656.6,488.0 656.6,493.4 653.3,492.2" fill="#606060" />
<polygon points="653.3,498.5 656.6,499.7 656.6,505.1 653.3,503.9" fill="#606060" />
<polygon points="653.3,510.2 656.6,511.4 656.6,516.8 653.3,515.6" fill="#606060" />
<polygon points="653.3,521.9 656.6,523.1 656.6,528.5 653.3,527.3" fill="#606060" />
<polygon points="653.3,533.6 656.6,534.8 656.6,540.2 653.3,539.0" fill="#606060" />
<polygon points="653.3,545.3 656.6,546.5 656.6,551.9 653.3,550.7" fill="#606060" />
<polygon points="653.3,557.0 656.6,558.2 656.6,563.6 653.3,562.4" fill="#606060" />
<polygon points="653.3,580.3 656.6,581.5 656.6,586.9 653.3,585.7" fill="#606060" />
<polygon points="653.3,592.1 656.6,593.3 656.6,598.7 653.3,597.5" fill="#606060" />
<polygon points="660.3,466.0 663.6,467.2 663.6,472.6 660.3,471.4" fill="#606060" />
<polygon points="660.3,477.7 663.6,478.9 663.6,484.3 660.3,483.1" fill="#606060" />
<polygon points="660.3,489.4 663.6,490.6 663.6,496.0 660.3,494.8" fill="#606060" />
<polygon points="660.3,501.1 663.6,502.3 663.6,507.7 660.3,506.5" fill="#606060" />
<polygon points="660.3,512.8 663.6,514.0 663.6,519.4 660.3,518.2" fill="#606060" />
<polygon points="660.3,524.5 663.6,525.7 663.6,531.1 660.3,529.9" fill="#606060" />
<polygon points="660.3,536.2 663.6,537.4 663.6,542.8 660.3,541.6" fill="#606060" />
<polygon points="660.3,547.9 663.6,549.1 663.6,554.5 660.3,553.3" fill="#606060" />
<polygon points="660.3,559.6 663.6,560.8 663.6,566.2 660.3,565.0" fill="#606060" />
<polygon points="660.3,582.9 663.6,584.1 663.6,589.5 660.3,588.3" fill="#606060" />
<polygon points="660.3,594.7 663.6,595.9 663.6,601.3 660.3,600.1" fill="#606060" />
<polygon points="667.3,468.6 670.6,469.8 670.6,475.2 667.3,473.9" fill="#606060" />
<polygon points="667.3,480.2 670.6,481.4 670.6,486.9 667.3,485.6" fill="#606060" />
<polygon points="667.3,491.9 670.6,493.1 670.6,498.6 667.3,497.3" fill="#606060" />
<polygon points="667.3,503.7 670.6,504.9 670.6,510.3 667.3,509.1" fill="#606060" />
<polygon points="667.3,515.4 670.6,516.6 670.6,522.0 667.3,520.8" fill="#606060" />
<polygon points="667.3,527.1 670.6,528.3 670.6,533.7 667.3,532.5" fill="#606060" />
<polygon points="667.3,538.8 670.6,540.0 670.6,545.4 667.3,544.1" fill="#606060" />
<polygon points="667.3,550.5 670.6,551.7 670.6,557.1 667.3,555.9" fill="#606060" />
<polygon points="667.3,562.2 670.6,563.4 670.6,568.8 667.3,567.6" fill="#606060" />
<polygon points="667.3,585.5 670.6,586.7 670.6,592.1 667.3,590.9" fill="#606060" />
<polygon points="667.3,597.2 670.6,598.5 670.6,603.9 667.3,602.6" fill="#606060" />
<polygon points="674.3,471.1 677.6,472.3 677.6,477.7 674.3,476.5" fill="#606060" />
<polygon points="674.3,482.8 677.6,484.0 677.6,489.4 674.3,488.2" fill="#606060" />
<polygon points="674.3,494.5 677.6,495.7 677.6,501.1 674.3,499.9" fill="#606060" />
<polygon points="674.3,506.2 677.6,507.4 677.6,512.8 674.3,511.6" fill="#606060" />
<polygon points="674.3,517.9 677.6,519.1 677.6,524.5 674.3,523.3" fill="#606060" />
<polygon points="674.3,529.6 677.6,530.8 677.6,536.2 674.3,535.0" fill="#606060" />
<polygon points="674.3,541.3 677.6,542.5 677.6,547.9 674.3,546.7" fill="#606060" />
<polygon points="674.3,553.0 677.6,554.2 677.6,559.6 674.3,558.4" fill="#606060" />
<polygon points="674.3,564.7 677.6,565.9 677.6,571.3 674.3,570.1" fill="#606060" />
<polygon points="674.3,588.0 677.6,589.2 677.6,594.6 674.3,593.4" fill="#606060" />
<polygon points="674.3,599.8 677.6,601.0 677.6,606.4 674.3,605.2" fill="#606060" />
<polygon points="569.5,542.5 624.0,562.5 624.0,565.5 569.5,545.5" fill="#f2f2f2" />
<polyline points="569.5,546.0 624.0,566.0" fill="none" stroke="#d0d0d0" stroke-width="1.2" stroke-linejoin="round" stroke-linecap="round" />
<polygon points="626.5,563.5 684.4,584.5 684.4,587.5 626.5,566.5" fill="#f2f2f2" />
<polyline points="626.5,567.0 684.4,588.0" fill="none" stroke="#d0d0d0" stroke-width="1.2" stroke-linejoin="round" stroke-linecap="round" />
<polygon points="684.4,466.4 746.0,488.0 746.0,644.0 684.4,621.6" fill="#d9d9d9" />
<polyline points="684.4,466.4 684.4,621.6" fill="none" stroke="#7a7a7a" stroke-width="1.2" stroke-linejoin="round" stroke-linecap="round" />
<polygon points="717.8,475.7 744.7,483.7 744.7,506.7 717.8,497.7" fill="#707070" />
<polygon points="685.0,493.7 717.8,497.7 745.5,506.7 745.5,516.7 685.0,503.7" fill="#f2f2f2" />
<polygon points="685.0,503.7 745.5,516.7 745.5,519.7 685.0,506.7" fill="#cfcfcf" />
<polygon points="717.8,517.0 744.7,525.0 744.7,548.0 717.8,539.0" fill="#707070" />
<polygon points="685.0,535.0 717.8,539.0 745.5,548.0 745.5,558.0 685.0,545.0" fill="#f2f2f2" />
<polygon points="685.0,545.0 745.5,558.0 745.5,561.0 685.0,548.0" fill="#cfcfcf" />
<polygon points="717.8,558.3 744.7,566.3 744.7,589.3 717.8,580.3" fill="#707070" />
<polygon points="685.0,576.3 717.8,580.3 745.5,589.3 745.5,599.3 685.0,586.3" fill="#f2f2f2" />
<polygon points="685.0,586.3 745.5,599.3 745.5,602.3 685.0,589.3" fill="#cfcfcf" />
<polygon points="717.8,599.6 744.7,607.6 744.7,630.6 717.8,621.6" fill="#707070" />
<polygon points="685.0,617.6 717.8,621.6 745.5,630.6 745.5,640.6 685.0,627.6" fill="#f2f2f2" />
<polygon points="685.0,627.6 745.5,640.6 745.5,643.6 685.0,630.6" fill="#cfcfcf" />
<polyline points="685.8,486.0 685.8,620.6 671.0,626.0" fill="none" stroke="#d89a4a" stroke-width="1.6" stroke-linejoin="round" stroke-linecap="round" />
<polyline points="685.8,496.0 698.0,492.0" fill="none" stroke="#d89a4a" stroke-width="1.4" stroke-linejoin="round" stroke-linecap="round" />
<polygon points="697.5,485.0 706.0,483.0 707.0,494.0 698.5,496.0" fill="#f6f6f6" />
<rect x="700.0" y="489.0" width="4.0" height="1.0" fill="#c86060" />
<polyline points="685.8,537.3 698.0,533.3" fill="none" stroke="#d89a4a" stroke-width="1.4" stroke-linejoin="round" stroke-linecap="round" />
<polygon points="697.5,526.3 706.0,524.3 707.0,535.3 698.5,537.3" fill="#f6f6f6" />
<rect x="700.0" y="530.3" width="4.0" height="1.0" fill="#c86060" />
<polyline points="685.8,578.6 698.0,574.6" fill="none" stroke="#d89a4a" stroke-width="1.4" stroke-linejoin="round" stroke-linecap="round" />
<polygon points="697.5,567.6 706.0,565.6 707.0,576.6 698.5,578.6" fill="#f6f6f6" />
<rect x="700.0" y="571.6" width="4.0" height="1.0" fill="#c86060" />
<polyline points="685.8,619.9 698.0,615.9" fill="none" stroke="#d89a4a" stroke-width="1.4" stroke-linejoin="round" stroke-linecap="round" />
<polygon points="697.5,608.9 706.0,606.9 707.0,617.9 698.5,619.9" fill="#f6f6f6" />
<rect x="700.0" y="612.9" width="4.0" height="1.0" fill="#c86060" />
<polygon points="745.5,477.0 762.0,479.0 762.0,645.6 745.5,644.0" fill="#f6f6f6" />
<polygon points="745.5,477.0 748.0,477.3 748.0,644.3 745.5,644.0" fill="#dedede" />
<polygon points="762.9,479.0 796.4,467.0 796.4,635.8 762.9,645.6" fill="#f8f8f8" />
<polyline points="763.6,486.0 763.6,645.0" fill="none" stroke="#555" stroke-width="1.3" stroke-linejoin="round" stroke-linecap="round" />
<polyline points="763.6,488.5 796.4,477.5" fill="none" stroke="#666" stroke-width="1.2" stroke-linejoin="round" stroke-linecap="round" />
<polyline points="764.0,595.0 796.0,586.0" fill="none" stroke="#dcdcdc" stroke-width="1.5" stroke-linejoin="round" stroke-linecap="round" />
<linearGradient id="gM1" x1="0" y1="0" x2="1" y2="0"><stop offset="0" stop-color="#878787"/><stop offset="1" stop-color="#a2a2a2"/></linearGradient>
<linearGradient id="gM2" x1="0" y1="0" x2="1" y2="0"><stop offset="0" stop-color="#b4b4b4"/><stop offset="1" stop-color="#979797"/></linearGradient>
<polygon points="569.3,414.1 606.7,400.9 665.8,420.3 628.4,436.7" fill="url(#gM1)" />
<polygon points="628.4,436.7 665.8,420.3 723.6,443.1 689.0,456.5" fill="url(#gM2)" />
<polygon points="689.0,456.5 723.6,443.1 796.4,465.6 764.4,478.0 746.9,476.5" fill="url(#gM2)" />
<polygon points="569.3,414.1 746.9,476.5 764.4,478.0 796.4,466.4 796.4,476.5 763.6,487.5 746.0,486.5 569.3,425.0" fill="#f2f2f2" />
<polyline points="569.3,415.0 746.9,477.3" fill="none" stroke="#5a5a5a" stroke-width="1.3" stroke-linejoin="round" stroke-linecap="round" />
<polyline points="764.4,478.5 796.4,467.0" fill="none" stroke="#5a5a5a" stroke-width="1.3" stroke-linejoin="round" stroke-linecap="round" />
<polygon points="646.0,597.0 652.0,593.0 671.0,596.0 662.8,600.0" fill="#e2e2e2" />
<polygon points="646.0,597.0 662.8,600.0 662.8,623.3 646.0,620.0" fill="#f4f4f4" />
<polygon points="662.8,600.0 671.0,596.0 671.0,620.0 662.8,623.3" fill="#dadada" />
<polygon points="647.5,620.0 662.8,623.3 669.7,620.0 669.7,628.0 662.8,631.7 647.5,628.0" fill="#d5d5d5" />
<rect x="649.0" y="601.0" width="5.0" height="1.3" fill="#c84040" />
<g id="h3">
<polygon points="412.2,667.2 481.1,647.2 505.6,656.1 505.6,708.3 443.3,725.0 412.2,723.9" fill="#e9e9e9" />
<polygon points="430.0,668.0 505.6,656.1 505.6,684.0 443.0,699.0 430.0,697.0" fill="#eeeeee" />
<polygon points="443.0,699.0 505.6,684.0 505.6,688.0 443.0,703.0" fill="#dcdcdc" />
<polygon points="443.5,702.0 456.7,699.0 456.7,718.0 443.5,721.0" fill="#e0e0e0" />
<linearGradient id="gWin" x1="0" y1="0" x2="1" y2="1"><stop offset="0" stop-color="#f4f4f4"/><stop offset="0.5" stop-color="#d0d0d0"/><stop offset="1" stop-color="#a8a8a8"/></linearGradient>
<polygon points="430.0,668.3 450.0,664.0 450.0,690.5 430.0,695.0" fill="#9a9a9a" />
<polygon points="432.5,670.0 450.0,666.5 450.0,690.5 432.5,694.5" fill="url(#gWin)" />
<polygon points="430.0,668.3 432.5,670.0 432.5,694.5 430.0,695.0" fill="#555" />
<polygon points="321.1,636.1 412.2,667.2 412.2,723.9 323.3,696.1" fill="#f1f1f1" />
<polygon points="322.0,664.0 414.4,695.0 414.4,700.0 322.0,669.0" fill="#fafafa" />
<polygon points="322.0,669.0 414.4,700.0 414.4,702.0 322.0,671.0" fill="#dcdcdc" />
<polygon points="334.0,675.0 335.3,675.4 335.3,701.0 334.0,700.6" fill="#dadada" />
<polygon points="344.0,678.4 345.3,678.8 345.3,704.4 344.0,704.0" fill="#dadada" />
<polygon points="356.7,682.6 358.0,683.0 358.0,708.6 356.7,708.2" fill="#dadada" />
<polygon points="369.0,686.7 370.3,687.1 370.3,712.7 369.0,712.3" fill="#dadada" />
<polygon points="381.0,690.8 382.3,691.2 382.3,716.8 381.0,716.4" fill="#dadada" />
<polygon points="392.0,694.5 393.3,694.9 393.3,720.5 392.0,720.1" fill="#dadada" />
<polygon points="403.0,698.1 404.3,698.5 404.3,724.1 403.0,723.7" fill="#dadada" />
<polygon points="353.3,648.0 366.7,652.5 366.7,671.7 353.3,667.0" fill="#cacaca" />
<polygon points="355.0,649.0 358.0,650.0 358.0,667.5 355.0,666.5" fill="#b4b4b4" />
<polygon points="331.0,647.5 342.0,651.0 342.0,660.0 331.0,656.5" fill="#e2e2e2" />
<linearGradient id="gR1" x1="0" y1="0" x2="1" y2="1"><stop offset="0" stop-color="#c2c2c2"/><stop offset="1" stop-color="#b7b7b7"/></linearGradient>
<polygon points="321.1,636.1 394.4,608.3 405.5,608.8 412.2,667.2" fill="url(#gR1)" />
<polygon points="405.5,608.8 416.7,609.4 481.1,647.2 412.2,667.2" fill="#dcdcdc" />
<polygon points="394.4,608.3 416.7,609.4 414.0,611.0 397.0,610.0" fill="#e4e4e4" />
<polyline points="329.2,633.0 411.5,660.7" fill="none" stroke="#b4b4b4" stroke-width="0.6" stroke-linejoin="round" stroke-linecap="round" />
<polyline points="337.4,629.9 410.7,654.2" fill="none" stroke="#b4b4b4" stroke-width="0.6" stroke-linejoin="round" stroke-linecap="round" />
<polyline points="345.5,626.8 410.0,647.7" fill="none" stroke="#b4b4b4" stroke-width="0.6" stroke-linejoin="round" stroke-linecap="round" />
<polyline points="353.7,623.7 409.2,641.2" fill="none" stroke="#b4b4b4" stroke-width="0.6" stroke-linejoin="round" stroke-linecap="round" />
<polyline points="361.8,620.7 408.5,634.8" fill="none" stroke="#b4b4b4" stroke-width="0.6" stroke-linejoin="round" stroke-linecap="round" />
<polyline points="370.0,617.6 407.7,628.3" fill="none" stroke="#b4b4b4" stroke-width="0.6" stroke-linejoin="round" stroke-linecap="round" />
<polyline points="378.1,614.5 407.0,621.8" fill="none" stroke="#b4b4b4" stroke-width="0.6" stroke-linejoin="round" stroke-linecap="round" />
<polyline points="386.3,611.4 406.2,615.3" fill="none" stroke="#b4b4b4" stroke-width="0.6" stroke-linejoin="round" stroke-linecap="round" />
<polyline points="411.4,659.9 473.1,642.5" fill="none" stroke="#cfcfcf" stroke-width="0.6" stroke-linejoin="round" stroke-linecap="round" />
<polyline points="410.5,652.6 465.0,637.8" fill="none" stroke="#cfcfcf" stroke-width="0.6" stroke-linejoin="round" stroke-linecap="round" />
<polyline points="409.7,645.3 456.9,633.0" fill="none" stroke="#cfcfcf" stroke-width="0.6" stroke-linejoin="round" stroke-linecap="round" />
<polyline points="408.9,638.0 448.9,628.3" fill="none" stroke="#cfcfcf" stroke-width="0.6" stroke-linejoin="round" stroke-linecap="round" />
<polyline points="408.0,630.7 440.9,623.6" fill="none" stroke="#cfcfcf" stroke-width="0.6" stroke-linejoin="round" stroke-linecap="round" />
<polyline points="407.2,623.4 432.8,618.9" fill="none" stroke="#cfcfcf" stroke-width="0.6" stroke-linejoin="round" stroke-linecap="round" />
<polyline points="406.3,616.1 424.8,614.1" fill="none" stroke="#cfcfcf" stroke-width="0.6" stroke-linejoin="round" stroke-linecap="round" />
<polygon points="321.1,636.1 412.2,667.2 412.2,670.0 321.1,639.0" fill="#f7f7f7" />
<polygon points="412.2,667.2 481.1,647.2 481.1,650.0 412.2,670.0" fill="#f4f4f4" />
</g>
<use href="#h3" transform="translate(209.1,550.1) scale(0.8) translate(-412.2,-667.2)"/>
<use href="#h3" transform="translate(96.7,590.8) scale(0.79) translate(-412.2,-667.2)"/>
<polygon points="151.0,600.0 162.0,598.0 162.0,614.0 151.0,616.0" fill="#f6f6f6" />
<rect x="154.0" y="605.0" width="5.0" height="1.5" fill="#cc4444" />
<polygon points="258.6,568.3 269.6,566.3 269.6,582.3 258.6,584.3" fill="#f6f6f6" />
<rect x="261.6" y="573.3" width="5.0" height="1.5" fill="#cc4444" />
<polyline points="157.1,616.0 157.1,631.0 188.9,640.7 299.0,603.0" fill="none" stroke="#c4eef2" stroke-width="5" stroke-linejoin="round" stroke-linecap="round" opacity="0.8"/>
<polyline points="157.1,616.0 157.1,631.0 188.9,640.7 299.0,603.0" fill="none" stroke="#3d8f9a" stroke-width="1.7" stroke-linejoin="round" stroke-linecap="round" />
<polyline points="264.7,580.0 264.7,591.8 299.0,603.5" fill="none" stroke="#c4eef2" stroke-width="5" stroke-linejoin="round" stroke-linecap="round" opacity="0.8"/>
<polyline points="264.7,580.0 264.7,591.8 299.0,603.5" fill="none" stroke="#3d8f9a" stroke-width="1.7" stroke-linejoin="round" stroke-linecap="round" />
<polyline points="277.0,611.0 330.7,631.0" fill="none" stroke="#c4eef2" stroke-width="5" stroke-linejoin="round" stroke-linecap="round" opacity="0.8"/>
<polyline points="277.0,611.0 330.7,631.0" fill="none" stroke="#3d8f9a" stroke-width="1.7" stroke-linejoin="round" stroke-linecap="round" />
<polyline points="328.3,590.6 357.6,577.0" fill="none" stroke="#c4eef2" stroke-width="5" stroke-linejoin="round" stroke-linecap="round" opacity="0.8"/>
<polyline points="328.3,590.6 357.6,577.0" fill="none" stroke="#3d8f9a" stroke-width="1.7" stroke-linejoin="round" stroke-linecap="round" />
<polyline points="299.0,602.5 327.0,590.5" fill="none" stroke="#6a6a6a" stroke-width="6" stroke-linejoin="round" stroke-linecap="round" />
<polyline points="301.0,600.5 325.0,590.0" fill="none" stroke="#8a8a8a" stroke-width="2" stroke-linejoin="round" stroke-linecap="round" />
<linearGradient id="gJC" x1="0" y1="0" x2="1" y2="0"><stop offset="0" stop-color="#666"/><stop offset="0.5" stop-color="#bbb"/><stop offset="1" stop-color="#777"/></linearGradient>
<ellipse cx="316.2" cy="519.5" rx="16.7" ry="5" fill="#5a5a5a"/>
<rect x="299.5" y="500.0" width="33.4" height="19.5" fill="url(#gJC)" />
<rect x="299.5" y="500.0" width="33.4" height="8.0" fill="#d8dfe2" />
<ellipse cx="316.2" cy="500" rx="16.7" ry="4" fill="#e6eef0"/>
<polyline points="305.0,499.0 309.0,496.5" fill="none" stroke="#c4eef2" stroke-width="5" stroke-linejoin="round" stroke-linecap="round" opacity="0.8"/>
<polyline points="305.0,499.0 309.0,496.5" fill="none" stroke="#3d8f9a" stroke-width="1.7" stroke-linejoin="round" stroke-linecap="round" />
<polyline points="322.0,496.0 328.0,498.0" fill="none" stroke="#c4eef2" stroke-width="5" stroke-linejoin="round" stroke-linecap="round" opacity="0.8"/>
<polyline points="322.0,496.0 328.0,498.0" fill="none" stroke="#3d8f9a" stroke-width="1.7" stroke-linejoin="round" stroke-linecap="round" />
<polygon points="337.6,534.0 372.5,524.4 413.8,538.7 364.6,545.0" fill="#dddddd" />
<polygon points="337.6,534.0 364.6,545.0 366.2,584.8 339.2,575.2" fill="#f2f2f2" />
<polygon points="364.6,545.0 413.8,538.7 413.8,572.0 366.2,584.8" fill="#e2e2e2" />
<polygon points="346.3,540.3 364.0,546.5 364.0,578.0 346.3,572.0" fill="#d6d6d6" />
<polygon points="347.5,550.0 363.0,554.0 363.0,577.0 347.5,571.0" fill="#f8f8f8" />
<rect x="351.0" y="563.0" width="6.0" height="1.5" fill="#cc4444" />
<polygon points="383.7,544.0 410.6,539.0 410.6,572.0 383.7,578.4" fill="#a9a9a9" />
<polygon points="386.0,550.0 408.0,545.0 408.0,570.0 386.0,575.0" fill="#c9c9c9" />
<text opacity="0.99" x="517" y="30.3" font-size="17" fill="#262626" stroke="#262626" stroke-width="0.5">High Riser</text>
<text opacity="0.99" x="725.5" y="95.7" font-size="17" fill="#262626" stroke="#262626" stroke-width="0.5">Rural Area</text>
<text opacity="0.99" x="212" y="246.7" font-size="17" fill="#262626" stroke="#262626" stroke-width="0.5">FTTC</text>
<text opacity="0.99" x="568.5" y="271" font-size="17" fill="#262626" stroke="#262626" stroke-width="0.5">OCC</text>
<text opacity="0.99" x="386.5" y="347" font-size="17" fill="#262626" stroke="#262626" stroke-width="0.5">CO</text>
<text opacity="0.99" x="639.5" y="365" font-size="17" fill="#262626" stroke="#262626" stroke-width="0.5">OCC</text>
<text opacity="0.99" x="778" y="337.6" font-size="17" fill="#262626" stroke="#262626" stroke-width="0.5">RBS</text>
<text opacity="0.99" x="749" y="440.3" font-size="17" fill="#262626" stroke="#262626" stroke-width="0.5">MDU</text>
<text opacity="0.99" x="85.5" y="512.7" font-size="17" fill="#262626" stroke="#262626" stroke-width="0.5">SDU</text>
<text opacity="0.99" x="249.5" y="389" font-size="13" fill="#262626" stroke="#262626" stroke-width="0.35">MSAN</text>
<text opacity="0.99" x="249.5" y="403.3" font-size="13" fill="#262626" stroke="#262626" stroke-width="0.35">CABINET</text>
<text opacity="0.99" x="259.5" y="475" font-size="13" fill="#262626" stroke="#262626" stroke-width="0.35">JOINT</text>
<text opacity="0.99" x="234.5" y="489.4" font-size="13" fill="#262626" stroke="#262626" stroke-width="0.35">CLOSURE</text>
</svg></div></body></html>
